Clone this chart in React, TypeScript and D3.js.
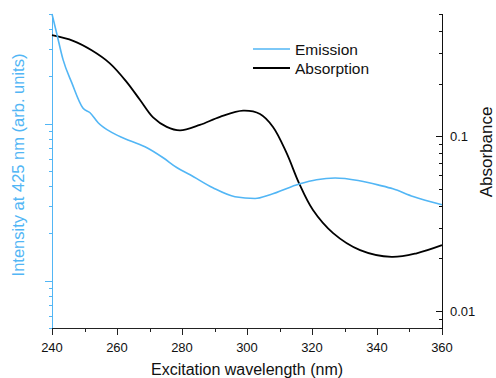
import React, { useRef, useEffect } from 'react';
import * as d3 from 'd3';

// emission (left axis, arbitrary units, log)
const emWave = [240, 241.4, 243.4, 246.1, 249.5, 251.7, 254.2, 258.5, 264, 269.2, 274.2, 278.5, 282.5, 289.5, 296.3, 302.5, 307.1, 316.3, 321.4, 327.1, 334.2, 340.9, 344.9, 351.1, 360];
const emValue = [50, 38, 25.6, 18.2, 12.6, 11.75, 10.15, 8.77, 7.79, 7.03, 6.07, 5.24, 4.73, 3.91, 3.43, 3.34, 3.53, 4.15, 4.4, 4.51, 4.35, 4.05, 3.85, 3.44, 3.05];

// absorption (right axis, log)
const abWave = [240, 246.5, 252.2, 257.8, 263, 267.1, 271.1, 275.3, 279.4, 285.5, 291.7, 298.8, 304, 308, 312.2, 316, 320.3, 326.5, 334.8, 344.5, 352.2, 360];
const abValue = [0.378, 0.351, 0.31, 0.261, 0.204, 0.161, 0.128, 0.113, 0.108, 0.116, 0.129, 0.14, 0.134, 0.113, 0.08, 0.0539, 0.0378, 0.0279, 0.0223, 0.0204, 0.0214, 0.0238];

const xTicks = [240, 260, 280, 300, 320, 340, 360];
const rightTickLabels = ['0.1', '0.01'];
const seriesNames = ['Emission', 'Absorption'];

const BLUE = '#52b6f5';

const App: React.FC = () => {
    const ref = useRef<SVGSVGElement | null>(null);
    const width = 496;
    const height = 378;

    useEffect(() => {
        const svg = d3.select(ref.current);
        svg.selectAll('*').remove();

        const left = 52, right = 442, top = 14, bottom = 328;
        const font = 'Liberation Sans, Arial, sans-serif';

        const x = d3.scaleLinear().domain([240, 360]).range([left, right]);
        const yL = d3.scaleLog().domain([0.5, 50]).range([bottom, top]);
        const yR = d3.scaleLog().domain([0.008, 0.5]).range([bottom, top]);

        const isMajor = (v: number) => Math.abs(Math.log10(v) - Math.round(Math.log10(v))) < 1e-6;

        // bottom axis
        const gx = svg.append('g');
        gx.append('line')
            .attr('x1', left).attr('x2', right)
            .attr('y1', bottom + 0.5).attr('y2', bottom + 0.5)
            .attr('stroke', '#222');
        d3.range(240, 361, 10).forEach(v => {
            const major = v % 20 === 0;
            gx.append('line')
                .attr('x1', Math.round(x(v)) + 0.5).attr('x2', Math.round(x(v)) + 0.5)
                .attr('y1', bottom).attr('y2', bottom + (major ? 7 : 4))
                .attr('stroke', '#222');
        });
        gx.selectAll('text.tick')
            .data(xTicks)
            .enter()
            .append('text')
            .attr('x', d => x(d))
            .attr('y', 352)
            .attr('text-anchor', 'middle')
            .style('font-family', font)
            .style('font-size', '13px')
            .style('fill', '#111')
            .text(d => d);
        gx.append('text')
            .attr('x', 247).attr('y', 375)
            .attr('text-anchor', 'middle')
            .style('font-family', font)
            .style('font-size', '16px')
            .style('fill', '#111')
            .text('Excitation wavelength (nm)');

        // left axis
        const gl = svg.append('g');
        gl.append('line')
            .attr('x1', left + 0.5).attr('x2', left + 0.5)
            .attr('y1', top).attr('y2', bottom)
            .attr('stroke', BLUE);
        yL.ticks().forEach(v => {
            const yy = Math.round(yL(v)) + 0.5;
            gl.append('line')
                .attr('x1', left - (isMajor(v) ? 7 : 3)).attr('x2', left)
                .attr('y1', yy).attr('y2', yy)
                .attr('stroke', BLUE);
        });
        gl.append('text')
            .attr('transform', `translate(24,165) rotate(-90)`)
            .attr('text-anchor', 'middle')
            .style('font-family', font)
            .style('font-size', '16.5px')
            .style('fill', BLUE)
            .text('Intensity at 425 nm (arb. units)');

        // right axis
        const gr = svg.append('g');
        gr.append('line')
            .attr('x1', right + 0.5).attr('x2', right + 0.5)
            .attr('y1', top).attr('y2', bottom + 1)
            .attr('stroke', '#111');
        yR.ticks().forEach(v => {
            const yy = Math.round(yR(v)) + 0.5;
            gr.append('line')
                .attr('x1', right - (isMajor(v) ? 6 : 3)).attr('x2', right)
                .attr('y1', yy).attr('y2', yy)
                .attr('stroke', '#111');
        });
        gr.selectAll('text.rt')
            .data(rightTickLabels)
            .enter()
            .append('text')
            .attr('x', 450)
            .attr('y', d => yR(+d) + 5)
            .style('font-family', font)
            .style('font-size', '13px')
            .style('fill', '#111')
            .text(d => d);
        gr.append('text')
            .attr('transform', `translate(492,152) rotate(-90)`)
            .attr('text-anchor', 'middle')
            .style('font-family', font)
            .style('font-size', '17px')
            .style('fill', '#111')
            .text('Absorbance');

        // curves
        const emLine = d3.line<number>()
            .x((_, i) => x(emWave[i]))
            .y(d => yL(d))
            .curve(d3.curveMonotoneX);
        const abLine = d3.line<number>()
            .x((_, i) => x(abWave[i]))
            .y(d => yR(d))
            .curve(d3.curveCatmullRom.alpha(0.5));

        svg.append('path')
            .attr('d', abLine(abValue))
            .attr('fill', 'none')
            .attr('stroke', '#000')
            .attr('stroke-width', 1.8);
        svg.append('path')
            .attr('d', emLine(emValue))
            .attr('fill', 'none')
            .attr('stroke', BLUE)
            .attr('stroke-width', 1.6);

        // legend
        const colors = [BLUE, '#000'];
        const lg = svg.append('g');
        seriesNames.forEach((name, i) => {
            const yy = 49 + i * 19;
            lg.append('line')
                .attr('x1', 253).attr('x2', 290)
                .attr('y1', yy).attr('y2', yy)
                .attr('stroke', colors[i])
                .attr('stroke-width', i === 0 ? 1.6 : 1.8);
            lg.append('text')
                .attr('x', 295).attr('y', yy + 5.5)
                .style('font-family', font)
                .style('font-size', '15.5px')
                .style('fill', '#111')
                .text(name);
        });
    }, []);

    return (
        <svg
            ref={ref}
            width={width}
            height={height}
            style={{ position: 'absolute', left: 0, top: 0, background: '#fff' }}
        ></svg>
    );
};

export default App;
